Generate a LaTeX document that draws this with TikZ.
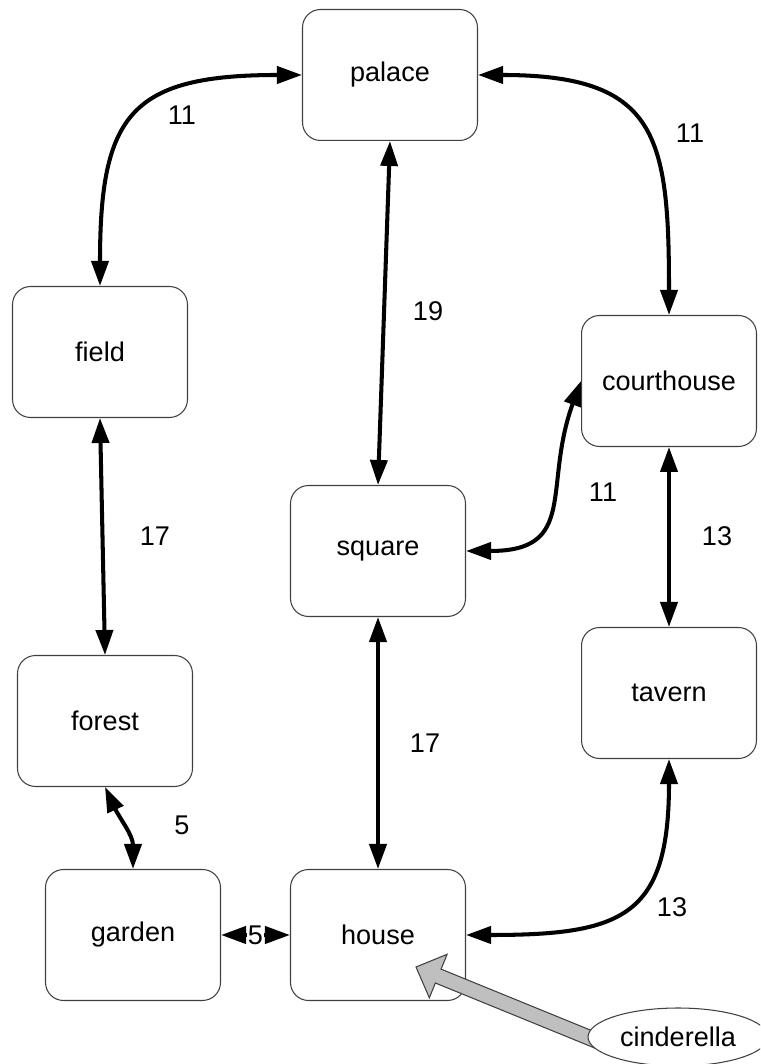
\documentclass[tikz,border=0pt]{standalone}
\usepackage{fontspec}
\setmainfont{Liberation Sans}
\usetikzlibrary{arrows.meta,calc,shapes.geometric}
\pgfdeclarelayer{front}
\pgfsetlayers{main,front}
\tikzset{>={Triangle[length=0.5cm,width=0.34cm]}}
\tikzstyle{place}=[rectangle,draw=black!75,fill=white,line width=0.6pt,minimum width=3.5cm,minimum height=2.62cm,rounded corners=0.36cm,font=\fontsize{15.4}{18}\selectfont]
\tikzstyle{person}=[ellipse,draw=black!75,fill=white,line width=0.6pt,minimum width=3.6cm,minimum height=1.16cm,inner sep=0pt,font=\fontsize{15.4}{18}\selectfont]
\tikzstyle{road}=[<->,line width=2.3pt]
\tikzstyle{weight}=[font=\fontsize{15.4}{18}\selectfont]
\tikzstyle{bigarrow}=[draw=black!75,fill=gray!50,line width=0.6pt]

\begin{document}
\begin{tikzpicture}[x=0.02cm,y=0.02cm]
    \path[use as bounding box] (0,0) rectangle (760,1064);
    \clip (0,0) rectangle (760,1064);
    \foreach \n/\x/\y in {palace/390/989, field/100/712, courthouse/669/683, square/378/513, forest/105/343, tavern/669/371, garden/133/129, house/378/129} {
        \node[place] (\n) at (\x,\y) {\n};
    };
    \begin{pgfonlayer}{front}
    \clip (0,0) rectangle (760,1064);
    \node[person] (cinderella) at (678,27) {cinderella};
    \end{pgfonlayer}

    \foreach \a/\b in {palace/square, field/forest, courthouse/tavern, square/house} {
        \draw[road] (\a.south) -- (\b.north);
    };
    \draw[road] (field.north) to[out=90,in=180,looseness=1.5] (palace.west);
    \draw[road] (palace.east) to[out=0,in=90,looseness=1.5] (courthouse.north);
    \draw[road] (square.east) to[out=0,in=250,looseness=1.4] (courthouse.west);
    \draw[road] (forest.south) to[out=-65,in=90] (garden.north);
    \draw[road] (tavern.south) to[out=270,in=0,looseness=1.5] (house.east);
    \draw[road] (garden.east) -- node[weight,fill=white,inner sep=0.5pt] (w10) {5} (house.west);

    \foreach \w/\x/\y/\t in {w1/182/949/11, w2/690/931/11, w3/428/753/19, w4/155/528/17, w5/603/572/11, w6/717/528/13, w7/425/321/17, w8/182/239/5, w9/672/157/13} {
        \node[weight] (\w) at (\x,\y) {\t};
    };

    \coordinate (door) at (416,97);
    \coordinate (tail) at ($(door)!1.08!(cinderella.west)$);
    \coordinate (neck) at ($(door)!0.48cm!(tail)$);
    \filldraw[bigarrow] ($(tail)!0.15cm!90:(door)$) -- ($(neck)!0.15cm!90:(door)$) -- ($(neck)!0.47cm!90:(door)$) -- (door)
        -- ($(neck)!0.47cm!-90:(door)$) -- ($(neck)!0.15cm!-90:(door)$) -- ($(tail)!0.15cm!-90:(door)$) -- cycle;
\end{tikzpicture}
\end{document}
